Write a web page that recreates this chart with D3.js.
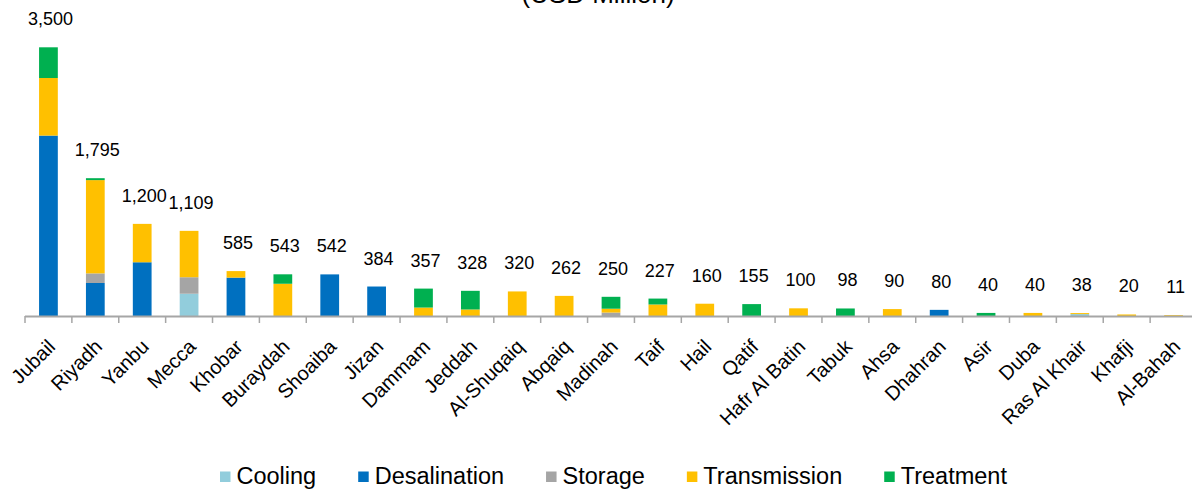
<!DOCTYPE html>
<html>
<head>
<meta charset="utf-8">
<script src="https://cdn.jsdelivr.net/npm/d3@7"></script>
<style>
  html, body { margin: 0; padding: 0; background: #fff; }
  svg { display: block; font-family: "Liberation Sans", Arial, sans-serif; }
</style>
</head>
<body>
<svg id="chart" width="1192" height="489"></svg>
<script>
const categories = ["Jubail","Riyadh","Yanbu","Mecca","Khobar","Buraydah","Shoaiba","Jizan","Dammam","Jeddah","Al-Shuqaiq","Abqaiq","Madinah","Taif","Hail","Qatif","Hafr Al Batin","Tabuk","Ahsa","Dhahran","Asir","Duba","Ras Al Khair","Khafji","Al-Bahah"];
const cooling      = [0,0,0,290,0,0,0,0,0,0,0,0,0,0,0,0,0,0,0,0,0,0,25,0,0];
const desalination = [2350,430,700,0,500,0,542,384,0,0,0,0,0,0,0,0,0,0,0,80,0,0,0,0,0];
const storage      = [0,125,0,215,0,0,0,0,0,0,0,0,45,0,0,0,0,0,0,0,0,0,0,0,0];
const transmission = [750,1215,500,604,85,420,0,0,110,85,320,262,50,150,160,0,100,0,90,0,0,40,13,20,11];
const treatment    = [400,25,0,0,0,123,0,0,247,243,0,0,155,77,0,155,0,98,0,0,40,0,0,0,0];
const seriesNames  = ["Cooling","Desalination","Storage","Transmission","Treatment"];
const seriesColors = ["#92cddc","#0070c0","#a5a5a5","#ffc000","#00b050"];
const titleText = "(USD Million)";

const seriesValues = [cooling, desalination, storage, transmission, treatment];
const rows = categories.map((c, i) => {
  const r = { category: c };
  seriesNames.forEach((s, k) => r[s] = seriesValues[k][i]);
  return r;
});
const totals = rows.map(r => d3.sum(seriesNames, s => r[s]));

const svg = d3.select("#chart");
const axisY = 316;

const x = d3.scaleBand().domain(categories).range([25, 1197]).paddingInner(0.6).paddingOuter(0.3);
const y = d3.scaleLinear().domain([0, 3500]).range([axisY, 47.3]);
const color = d3.scaleOrdinal().domain(seriesNames).range(seriesColors);

// title (partially cut at top, as in the reference)
svg.append("text").attr("x", 598).attr("y", 3).attr("text-anchor", "middle")
  .attr("font-size", 26).attr("fill", "#000").text(titleText);

// stacked bars
const stacked = d3.stack().keys(seriesNames)(rows);
svg.append("g").selectAll("g").data(stacked).join("g")
  .attr("fill", d => color(d.key))
  .selectAll("rect").data(d => d.filter(p => p[1] - p[0] > 0)).join("rect")
  .attr("x", d => x(d.data.category))
  .attr("width", x.bandwidth())
  .attr("y", d => y(d[1]))
  .attr("height", d => y(d[0]) - y(d[1]));

// axis line and ticks at band boundaries
const step = x.step();
const gAxis = svg.append("g");
gAxis.append("line").attr("x1", 25).attr("x2", 1192).attr("y1", axisY + 0.5).attr("y2", axisY + 0.5)
  .attr("stroke", "#a6a6a6").attr("stroke-width", 2);
const tickXs = categories.map(c => x(c) - step * x.paddingInner() / 2);
gAxis.selectAll("line.tick").data(tickXs).join("line").attr("class", "tick")
  .attr("x1", d => d).attr("x2", d => d).attr("y1", axisY).attr("y2", axisY + 7)
  .attr("stroke", "#a6a6a6").attr("stroke-width", 1.5);

// category labels
svg.append("g").selectAll("text").data(categories).join("text")
  .attr("transform", d => `translate(${x(d) + x.bandwidth() / 2 + 8},${axisY + 32}) rotate(-45)`)
  .attr("text-anchor", "end").attr("font-size", 20).attr("fill", "#000")
  .text(d => d);

// total labels
const fmt = d3.format(",");
svg.append("g").selectAll("text").data(totals).join("text")
  .attr("x", (d, i) => x(categories[i]) + x.bandwidth() / 2 + 2)
  .attr("y", d => y(d) - 22)
  .attr("text-anchor", "middle").attr("font-size", 18).attr("fill", "#000")
  .text(d => fmt(d));

// legend
const legend = svg.append("g");
let lx = 220;
seriesNames.forEach((s, k) => {
  legend.append("rect").attr("x", lx).attr("y", 471.5).attr("width", 10.5).attr("height", 10.5)
    .attr("fill", seriesColors[k]);
  const t = legend.append("text").attr("x", lx + 16.5).attr("y", 483.5)
    .attr("font-size", 23.5).attr("fill", "#000").text(s);
  lx += 16.5 + t.node().getComputedTextLength() + 42;
});
</script>
</body>
</html>
